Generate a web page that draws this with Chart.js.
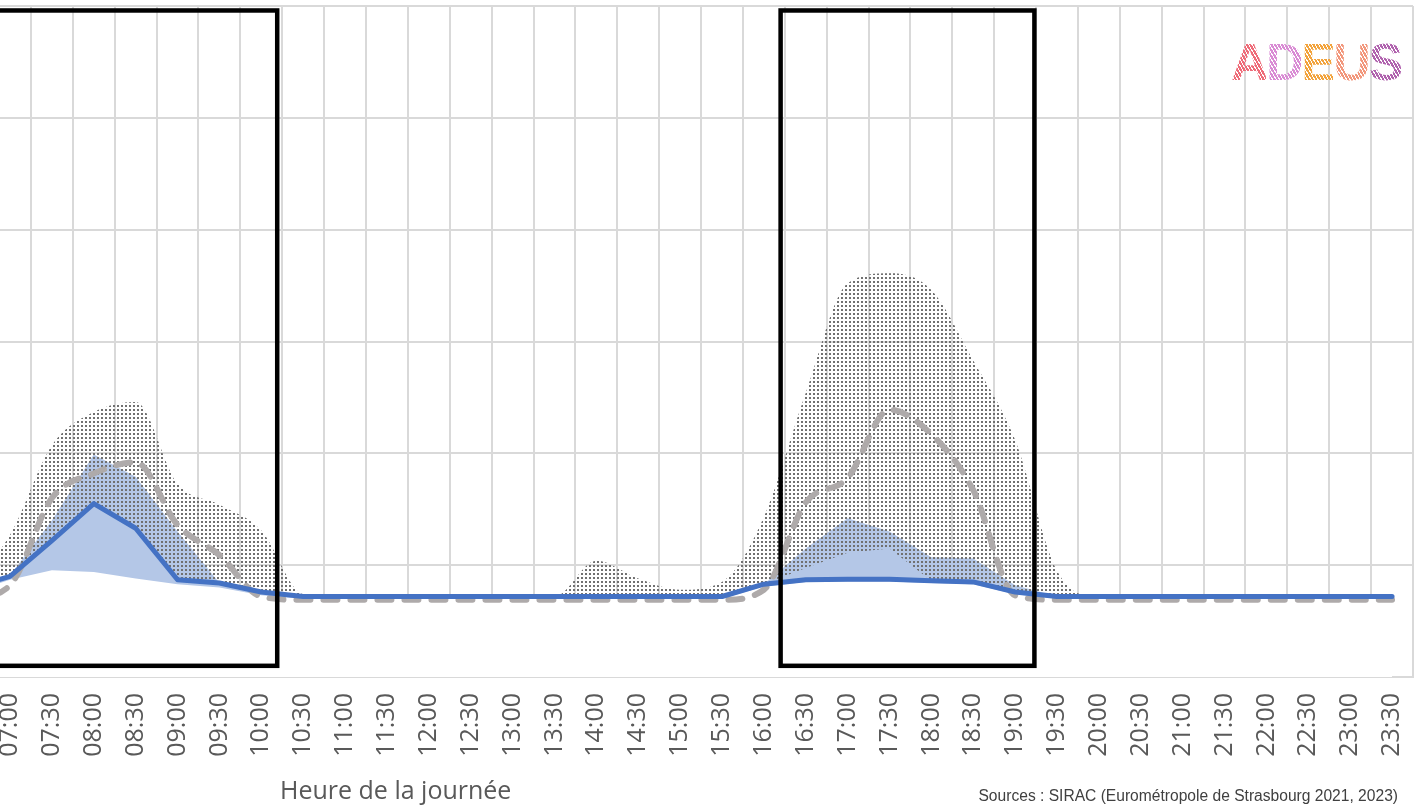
<!DOCTYPE html>
<html lang="fr">
<head>
<meta charset="utf-8">
<title>Heure de la journée</title>
<script src="https://cdn.jsdelivr.net/npm/chart.js@4/dist/chart.umd.min.js"></script>
<style>
  html, body { margin: 0; padding: 0; background: #fff; overflow: hidden; }
  body { width: 1421px; height: 811px; position: relative; }
  #graphique { position: absolute; left: -60px; top: 0; }
  .titre-axe { position: absolute; left: 280px; top: 777px; font: 25px "Open Sans", sans-serif; line-height: 1; color: #595959; white-space: nowrap; }
  .sources { position: absolute; right: 23px; top: 788px; font: 15.6px "Liberation Sans", Arial, sans-serif; line-height: 1; color: #404040; white-space: nowrap; }
  .logo { position: absolute; left: 1231px; top: 36px; font: bold 52px "Liberation Sans", Arial, sans-serif; line-height: 1; letter-spacing: -2.5px; white-space: nowrap; }
  .logo span { -webkit-background-clip: text; background-clip: text; color: transparent; }
</style>
</head>
<body>
<canvas id="graphique" width="1481" height="811"></canvas>
<div class="titre-axe">Heure de la journée</div>
<div class="sources">Sources : SIRAC (Eurométropole de Strasbourg 2021, 2023)</div>
<div class="logo" id="logo"></div>

<script>
// heures (06:30 est hors cadre, à gauche)
const heures = ['06:30','07:00','07:30','08:00','08:30','09:00','09:30','10:00','10:30','11:00','11:30','12:00',
  '12:30','13:00','13:30','14:00','14:30','15:00','15:30','16:00','16:30','17:00','17:30','18:00',
  '18:30','19:00','19:30','20:00','20:30','21:00','21:30','22:00','22:30','23:00','23:30'];

// courbe bleue (2023)
const ligne2023 = [7.9, 9.0, 12.2, 15.5, 13.3, 8.7, 8.4, 7.6, 7.2, 7.2, 7.2, 7.2,
  7.2, 7.2, 7.2, 7.2, 7.2, 7.2, 7.2, 8.3, 8.7, 8.75, 8.75, 8.6,
  8.5, 7.6, 7.2, 7.2, 7.2, 7.2, 7.2, 7.2, 7.2, 7.2, 7.2];

// courbe grise pointillée (2021)
const ligne2021 = [6.9, 8.2, 16.0, 18.2, 19.2, 13.6, 10.9, 7.2, 6.9, 6.9, 6.9, 6.9,
  6.9, 6.9, 6.9, 6.9, 6.9, 6.9, 6.9, 7.8, 15.6, 17.8, 23.9, 21.7,
  16.7, 7.3, 6.9, 6.9, 6.9, 6.9, 6.9, 6.9, 6.9, 6.9, 6.9];

// zone pointillée : haut et bas
const zoneMax = [8.0, 12.7, 20.7, 23.7, 24.6, 17.3, 15.4, 13.1, 7.4, 7.2, 7.2, 7.2,
  7.2, 7.2, 7.2, 10.4, 8.8, 7.8, 8.5, 14.3, 25.4, 35.2, 36.1, 34.6,
  28.3, 21.2, 9.5, 7.2, 7.2, 7.2, 7.2, 7.2, 7.2, 7.2, 7.2];
const zoneMaxBas = [7.9, 9.0, 12.2, 15.5, 13.3, 8.7, 8.4, 7.6, 7.2, 7.2, 7.2, 7.2,
  7.2, 7.2, 7.2, 7.2, 7.2, 7.2, 7.2, 8.3, 9.75, 11.1, 11.5, 8.6,
  8.5, 7.6, 7.2, 7.2, 7.2, 7.2, 7.2, 7.2, 7.2, 7.2, 7.2];

// zone bleue : haut et bas
const zoneBleue = [8.0, 9.1, 14.0, 19.9, 17.9, 13.0, 8.4, 7.6, 7.2, 7.2, 7.2, 7.2,
  7.2, 7.2, 7.2, 7.2, 7.2, 7.2, 7.2, 8.3, 11.5, 14.2, 13.0, 10.7,
  10.6, 8.2, 7.2, 7.2, 7.2, 7.2, 7.2, 7.2, 7.2, 7.2, 7.2];
const zoneMin = [7.5, 8.7, 9.55, 9.4, 8.8, 8.3, 8.0, 7.3, 7.0, 7.0, 7.0, 7.0,
  7.0, 7.0, 7.0, 7.0, 7.0, 7.0, 7.0, 8.1, 8.5, 8.55, 8.55, 8.4,
  8.3, 7.4, 7.0, 7.0, 7.0, 7.0, 7.0, 7.0, 7.0, 7.0, 7.0];

// périodes de pointe (heures décimales) et hauteur des cadres
const pointeDebut = [6.6, 16.2];
const pointeFin = [10.19, 19.23];
const cadreHaut = 59.6;
const cadreBas = 1.0;

const yMax = 60;
const yPas = 10;

// logo
const lettres = ['A', 'D', 'E', 'U', 'S'];
const couleursLogo = ['#ee6b78', '#d98bd4', '#f2a33c', '#f2977c', '#b062ae'];

const logo = document.getElementById('logo');
lettres.forEach((l, i) => {
  const s = document.createElement('span');
  s.textContent = l;
  s.style.backgroundImage = `repeating-linear-gradient(60deg, ${couleursLogo[i]} 0 2px, rgba(255,255,255,0.45) 2px 3px)`;
  logo.appendChild(s);
});

// motif à points
function motifPoints() {
  const c = document.createElement('canvas');
  c.width = 4; c.height = 4;
  const g = c.getContext('2d');
  g.fillStyle = '#707070';
  g.fillRect(1, 1, 2, 2);
  return g.createPattern(c, 'repeat');
}

const indexHeure = h => (h - 6.5) * 2;

const cadres = {
  id: 'cadres',
  afterDatasetsDraw(chart) {
    const { ctx, scales: { x, y } } = chart;
    ctx.save();
    ctx.strokeStyle = '#000';
    ctx.lineWidth = 4.5;
    pointeDebut.forEach((d, i) => {
      const x1 = x.getPixelForValue(indexHeure(d));
      const x2 = x.getPixelForValue(indexHeure(pointeFin[i]));
      const y1 = y.getPixelForValue(cadreHaut);
      const y2 = y.getPixelForValue(cadreBas);
      ctx.strokeRect(x1, y1, x2 - x1, y2 - y1);
    });
    ctx.restore();
  }
};

const ctx = document.getElementById('graphique').getContext('2d');

new Chart(ctx, {
  type: 'line',
  data: {
    labels: heures,
    datasets: [
      {
        label: 'Zone bleue',
        data: zoneBleue,
        borderWidth: 0,
        borderColor: 'rgba(0,0,0,0)',
        backgroundColor: '#b4c7e7',
        fill: 'origin',
        pointRadius: 0,
        tension: 0,
        order: 6
      },
      {
        label: 'Zone max',
        data: zoneMax,
        borderWidth: 0,
        borderColor: 'rgba(0,0,0,0)',
        backgroundColor: motifPoints(),
        fill: { target: 2 },
        pointRadius: 0,
        cubicInterpolationMode: 'monotone',
        order: 5
      },
      {
        label: 'Zone max bas',
        data: zoneMaxBas,
        borderWidth: 0,
        borderColor: 'rgba(0,0,0,0)',
        fill: false,
        pointRadius: 0,
        tension: 0,
        order: 5
      },
      {
        label: 'Zone min',
        data: zoneMin,
        borderWidth: 0,
        borderColor: 'rgba(0,0,0,0)',
        backgroundColor: '#ffffff',
        fill: 'origin',
        pointRadius: 0,
        tension: 0,
        order: 4
      },
      {
        label: '2021',
        data: ligne2021,
        borderColor: '#aeaaaa',
        borderWidth: 6,
        borderDash: [14, 13],
        borderCapStyle: 'round',
        borderJoinStyle: 'round',
        fill: false,
        pointRadius: 0,
        cubicInterpolationMode: 'monotone',
        order: 3
      },
      {
        label: '2023',
        data: ligne2023,
        borderColor: '#4472c4',
        borderWidth: 5,
        borderCapStyle: 'round',
        borderJoinStyle: 'round',
        fill: false,
        pointRadius: 0,
        tension: 0,
        order: 2
      }
    ]
  },
  options: {
    responsive: false,
    animation: false,
    layout: { padding: { left: 7.2, right: 8, top: 6, bottom: 0 } },
    plugins: {
      legend: { display: false },
      tooltip: { enabled: false }
    },
    scales: {
      x: {
        offset: true,
        grid: { offset: true, color: '#d9d9d9', lineWidth: 2, drawTicks: false },
        border: { display: true, color: '#d9d9d9', width: 2 },
        ticks: {
          autoSkip: false,
          maxRotation: 90,
          minRotation: 90,
          padding: 16,
          color: '#595959',
          font: { family: 'Open Sans', size: 25 }
        },
        afterFit(scale) {
          scale.height = 134;
          scale.paddingLeft = 0;
          scale.paddingRight = 0;
        }
      },
      y: {
        min: 0,
        max: yMax,
        ticks: { stepSize: yPas, display: false },
        grid: { color: '#d9d9d9', lineWidth: 2, drawTicks: false },
        border: { display: false },
        afterFit(scale) { scale.width = 0; }
      }
    }
  },
  plugins: [cadres]
});
</script>
</body>
</html>
